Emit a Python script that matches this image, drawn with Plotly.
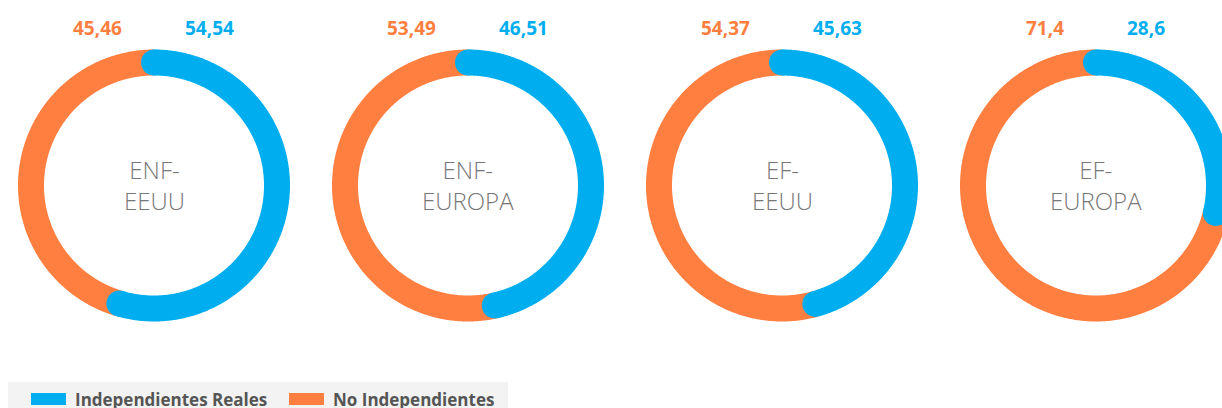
import numpy as np
import plotly.graph_objects as go

# ---- data ----
categories = ["ENF-<br>EEUU", "ENF-<br>EUROPA", "EF-<br>EEUU", "EF-<br>EUROPA"]
independientes = [54.54, 46.51, 45.63, 28.6]
no_independientes = [45.46, 53.49, 54.37, 71.4]
independientes_lbl = ["54,54", "46,51", "45,63", "28,6"]
no_independientes_lbl = ["45,46", "53,49", "54,37", "71,4"]
series_names = ["Independientes Reales", "No Independientes"]

# ---- style ----
BLUE = "#00AEEF"
ORANGE = "#FF7F41"
W, H = 1222, 408
centers_x = [154, 468, 782, 1096]
cy = 185.5
R = 123
RING = 26
FONT = "Open Sans"


def arc(cx, start_pct, end_pct, n=360):
    t = np.linspace(start_pct, end_pct, n) / 100.0 * 2 * np.pi
    return cx + R * np.sin(t), cy - R * np.cos(t)


fig = go.Figure()
annotations = []
for i, cat in enumerate(categories):
    cx = centers_x[i]
    b = independientes[i]
    o = no_independientes[i]
    xo, yo = arc(cx, b, b + o)
    fig.add_trace(go.Scatter(x=xo, y=yo, mode="lines",
                             line=dict(color=ORANGE, width=RING, simplify=False),
                             hoverinfo="skip", showlegend=False))
    xb, yb = arc(cx, 0, b)
    fig.add_trace(go.Scatter(x=xb, y=yb, mode="lines",
                             line=dict(color=BLUE, width=RING, simplify=False),
                             hoverinfo="skip", showlegend=False))
    fig.add_trace(go.Scatter(x=[xb[0], xb[-1]], y=[yb[0], yb[-1]], mode="markers",
                             marker=dict(color=BLUE, size=RING, line=dict(width=0)),
                             hoverinfo="skip", showlegend=False))
    annotations.append(dict(x=cx - 30, y=28, xref="x", yref="y", text=no_independientes_lbl[i],
                            showarrow=False, xanchor="right", yanchor="middle",
                            font=dict(family=FONT, size=19, color=ORANGE, weight="bold")))
    annotations.append(dict(x=cx + 29, y=28, xref="x", yref="y", text=independientes_lbl[i],
                            showarrow=False, xanchor="left", yanchor="middle",
                            font=dict(family=FONT, size=19, color=BLUE, weight="bold")))
    annotations.append(dict(x=cx, y=185, xref="x", yref="y", text=cat,
                            showarrow=False, xanchor="center", yanchor="middle",
                            font=dict(family=FONT, size=24, color="#777777", weight=300)))

shapes = [
    dict(type="rect", xref="x", yref="y", x0=8, x1=508, y0=382, y1=412,
         fillcolor="#F2F3F2", line=dict(width=0), layer="below"),
    dict(type="rect", xref="x", yref="y", x0=31, x1=66, y0=393, y1=405,
         fillcolor=BLUE, line=dict(width=0)),
    dict(type="rect", xref="x", yref="y", x0=289, x1=324, y0=393, y1=405,
         fillcolor=ORANGE, line=dict(width=0)),
]
annotations.append(dict(x=73, y=399, xref="x", yref="y", text=series_names[0], showarrow=False,
                        xanchor="left", yanchor="middle",
                        font=dict(family=FONT, size=17, color="#555555", weight="bold")))
annotations.append(dict(x=331, y=399, xref="x", yref="y", text=series_names[1], showarrow=False,
                        xanchor="left", yanchor="middle",
                        font=dict(family=FONT, size=17, color="#555555", weight="bold")))

fig.update_layout(
    width=W, height=H,
    margin=dict(l=0, r=0, t=0, b=0),
    paper_bgcolor="white", plot_bgcolor="white",
    xaxis=dict(range=[0, W], visible=False, fixedrange=True),
    yaxis=dict(range=[H, 0], visible=False, fixedrange=True),
    shapes=shapes, annotations=annotations, showlegend=False,
    hovermode=False,
)
fig.write_html(
    "out.html",
    config={"displayModeBar": False, "staticPlot": True},
    post_script="document.body.style.margin='0';document.body.style.overflow='hidden';",
)
